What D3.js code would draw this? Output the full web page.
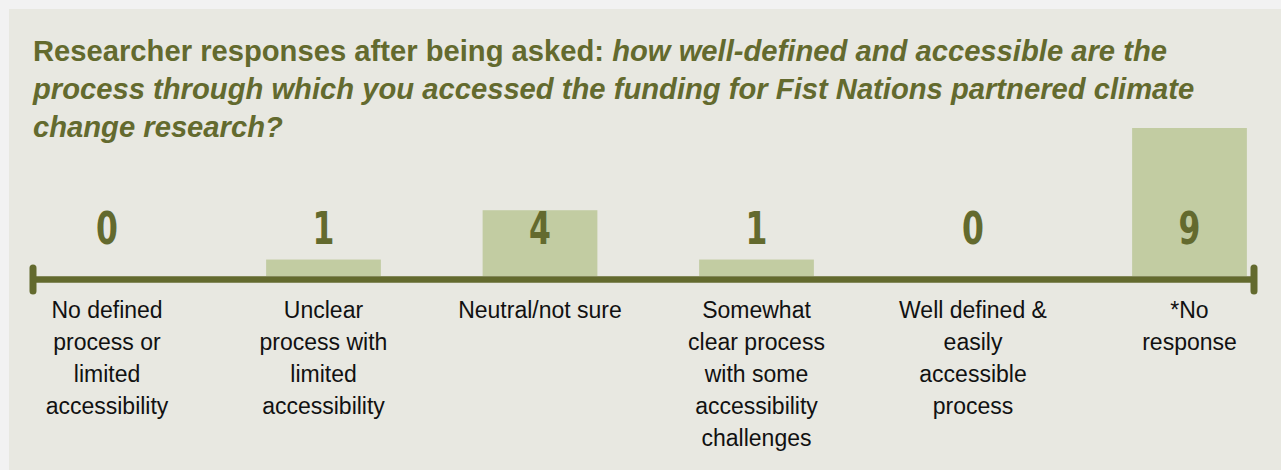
<!DOCTYPE html>
<html>
<head>
<meta charset="utf-8">
<script src="https://cdn.jsdelivr.net/npm/d3@7"></script>
<style>
	html, body { margin: 0; padding: 0; background: #f2f2f2; }
	svg { display: block; }
</style>
</head>
<body>
<div id="chart"></div>
<script>

// data
var categories = [
	["No defined", "process or", "limited", "accessibility"],
	["Unclear", "process with", "limited", "accessibility"],
	["Neutral/not sure"],
	["Somewhat", "clear process", "with some", "accessibility", "challenges"],
	["Well defined &", "easily", "accessible", "process"],
	["*No", "response"]
];
var counts = [0, 1, 4, 1, 0, 9];
var titleBold = "Researcher responses after being asked: ";
var titleItalic = "how well-defined and accessible are the process through which you accessed the funding for Fist Nations partnered climate change research?";

///////////////////////////////////////////////////////////////////////////
//////////////////// Set up and initiate svg container ////////////////////
///////////////////////////////////////////////////////////////////////////

var width = 1281,
	height = 470;

var olive = "#636a2e",
	barFill = "#c2cca2",
	panel = "#e8e8e1";

var svg = d3.select("#chart").append("svg")
	.attr("width", width)
	.attr("height", height);

//Panel
svg.append("rect")
	.attr("x", 9)
	.attr("y", 9)
	.attr("width", width - 9)
	.attr("height", height - 9)
	.style("fill", panel);

///////////////////////////////////////////////////////////////////////////
///////////////////////////////// Title ///////////////////////////////////
///////////////////////////////////////////////////////////////////////////

var titleFont = "29.2px";

var titleText = svg.append("text")
	.attr("x", 33)
	.attr("y", 61)
	.style("font-family", "'Liberation Sans', Arial, sans-serif")
	.style("font-size", titleFont)
	.style("font-weight", "bold")
	.style("fill", olive);

//wrap the title by hand into lines of max width
var maxW = 1180;
var words = [];
titleBold.trim().split(" ").forEach(function(w) { words.push({w: w, it: false}); });
titleItalic.split(" ").forEach(function(w) { words.push({w: w, it: true}); });

var probe = svg.append("text")
	.style("font-family", "'Liberation Sans', Arial, sans-serif")
	.style("font-size", titleFont)
	.style("font-weight", "bold")
	.style("font-style", "italic");

function measure(str) {
	probe.text(str);
	return probe.node().getComputedTextLength();
}

var lines = [[]];
var cur = "";
words.forEach(function(d) {
	var test = cur ? cur + " " + d.w : d.w;
	if (measure(test) > maxW && cur) {
		lines.push([]);
		cur = d.w;
	} else {
		cur = test;
	}
	lines[lines.length - 1].push(d);
});
probe.remove();

lines.forEach(function(line, li) {
	line.forEach(function(d, wi) {
		var t = titleText.append("tspan")
			.style("font-style", d.it ? "italic" : "normal")
			.text((wi > 0 ? " " : "") + d.w);
		if (wi === 0) t.attr("x", 33).attr("dy", li === 0 ? 0 : 38);
	});
});

///////////////////////////////////////////////////////////////////////////
////////////////////////////// Scales /////////////////////////////////////
///////////////////////////////////////////////////////////////////////////

var baseY = 276;

var x = d3.scaleBand()
	.domain(d3.range(categories.length))
	.range([-1.25, 1297.75])
	.paddingInner(0.47)
	.paddingOuter(0.235);

var y = d3.scaleLinear()
	.domain([0, 9])
	.range([baseY, 128]);

//Bars
svg.selectAll(".bar")
	.data(counts)
	.enter().append("rect")
	.attr("class", "bar")
	.attr("x", function(d, i) { return x(i); })
	.attr("y", function(d) { return y(d); })
	.attr("width", x.bandwidth())
	.attr("height", function(d) { return baseY - y(d); })
	.style("fill", barFill);

//Axis line with end caps
svg.append("line")
	.attr("x1", 33)
	.attr("x2", 1254)
	.attr("y1", baseY + 3.5)
	.attr("y2", baseY + 3.5)
	.style("stroke", olive)
	.style("stroke-width", 6.5);

[33, 1254].forEach(function(cx) {
	svg.append("line")
		.attr("x1", cx)
		.attr("x2", cx)
		.attr("y1", 268)
		.attr("y2", 291)
		.style("stroke", olive)
		.style("stroke-width", 7)
		.style("stroke-linecap", "round");
});

//Value labels, squeezed to a condensed look
svg.selectAll(".value")
	.data(counts)
	.enter().append("text")
	.attr("class", "value")
	.attr("transform", function(d, i) {
		return "translate(" + (x(i) + x.bandwidth() / 2) + ",244) scale(0.7,1)";
	})
	.attr("text-anchor", "middle")
	.style("font-family", "'DejaVu Sans', sans-serif")
	.style("font-weight", "bold")
	.style("font-size", "45px")
	.style("fill", olive)
	.text(function(d) { return d; });

//Category labels
var labels = svg.selectAll(".cat")
	.data(categories)
	.enter().append("text")
	.attr("class", "cat")
	.attr("text-anchor", "middle")
	.attr("y", 318)
	.style("font-family", "'Liberation Sans', Arial, sans-serif")
	.style("font-size", "23px")
	.style("fill", "#111");

labels.selectAll("tspan")
	.data(function(d, i) { return d.map(function(s) { return {s: s, i: i}; }); })
	.enter().append("tspan")
	.attr("x", function(d) { return x(d.i) + x.bandwidth() / 2; })
	.attr("dy", function(d, j) { return j === 0 ? 0 : 32; })
	.text(function(d) { return d.s; });

</script>
</body>
</html>
